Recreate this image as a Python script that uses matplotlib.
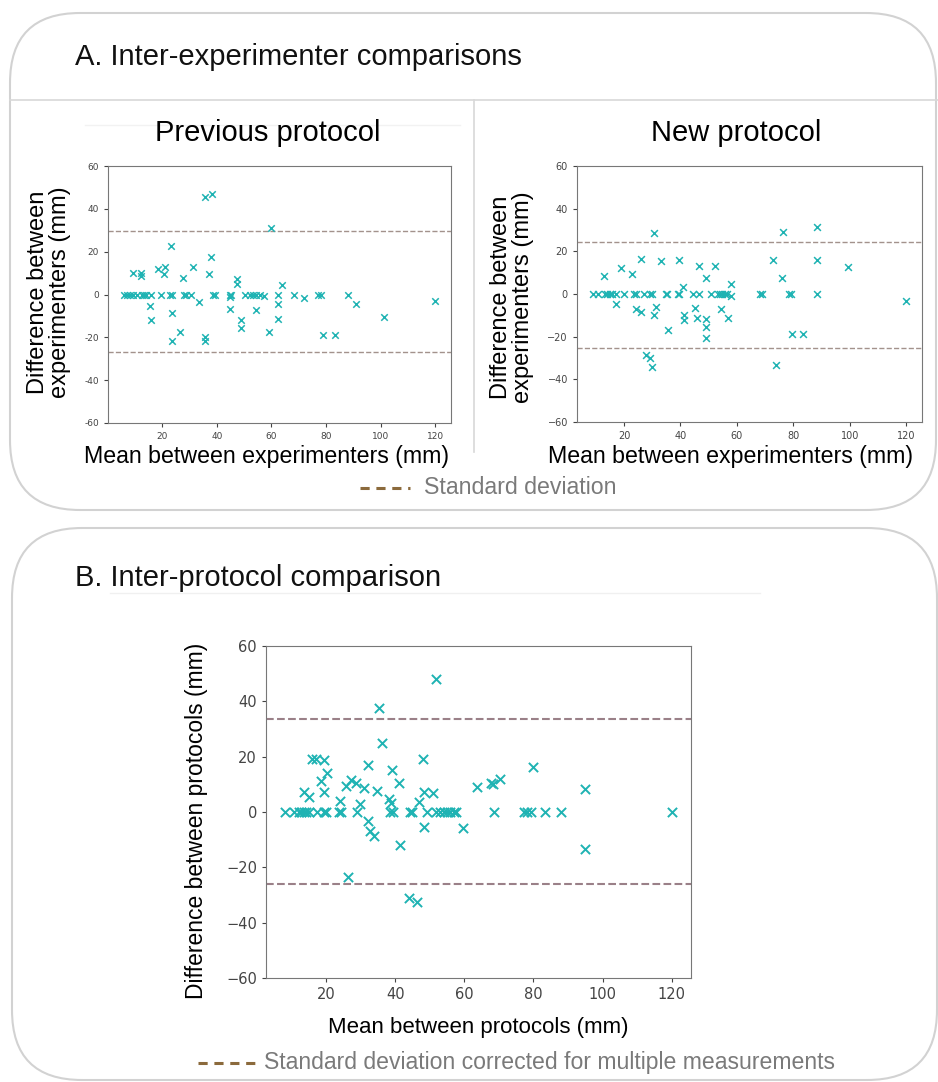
import matplotlib
matplotlib.use("Agg")
import matplotlib.pyplot as plt
from matplotlib.patches import FancyBboxPatch
from matplotlib.ticker import FuncFormatter

W, H = 938, 1082

# A. previous protocol (mean vs difference between experimenters, mm)
prev_mean = [5.9, 7.1, 8.3, 9.5, 10.7, 12.5, 13.3, 14.2, 15.8, 19.6, 22.8, 23.6, 27.9, 28.7,
             30.6, 38.7, 39.3, 44.8, 45.2, 50.5, 52.0, 53.3, 54.5, 55.9, 62.3, 68.4, 77.2, 78.0, 87.9,
             9.4, 12.4, 12.4, 15.4, 16.1, 18.4, 21.2, 20.8, 23.3, 23.6, 23.6, 26.4, 27.6, 31.2, 33.5,
             35.7, 38.1, 35.7, 35.7, 37.0, 38.0, 44.8, 45.0, 47.4, 47.3, 48.8, 48.8, 54.2, 57.2, 59.2,
             59.8, 62.3, 62.3, 63.8, 72.0, 79.0, 83.2, 90.9, 101.3, 120.0]
prev_diff = [0, 0, 0, 0, 0, 0, 0, 0, 0, 0, 0, 0, 0, 0,
             0, 0, 0, 0, 0, 0, 0, 0, 0, 0, 0, 0, 0, 0, 0,
             10.0, 10.0, 8.5, -5.4, -11.8, 12.1, 12.8, 9.4, 22.6, -8.5, -21.6, -17.5, 7.5, 12.7, -3.7,
             45.5, 47.1, -19.8, -21.9, 9.7, 17.4, -1.2, -6.9, 7.4, 5.1, -12.1, -15.5, -7.2, -0.9, -17.5,
             31.2, -4.4, -11.4, 4.6, -1.5, -18.8, -18.8, -4.3, -10.4, -3.2]
prev_sd = [29.5, -26.7]

# A. new protocol
new_mean = [8.9, 10.9, 13.1, 13.9, 14.9, 15.8, 17.3, 20.0, 23.6, 24.2, 27.2, 29.2, 30.0, 34.7, 35.4,
            39.0, 39.5, 44.4, 46.7, 50.9, 53.3, 54.0, 54.8, 55.8, 56.6, 68.3, 68.9, 78.6, 79.2, 88.3,
            12.8, 17.3, 18.8, 23.0, 24.4, 26.0, 26.0, 27.7, 29.2, 29.8, 30.5, 30.6, 31.3, 33.0, 35.7,
            39.4, 40.9, 41.1, 41.1, 45.3, 45.9, 46.7, 49.0, 49.1, 49.2, 49.1, 52.2, 54.4, 56.9, 57.8,
            57.8, 72.9, 73.9, 76.1, 76.4, 79.4, 83.5, 88.4, 88.5, 99.4, 120.0]
new_diff = [0, 0, 0, 0, 0, 0, 0, 0, 0, 0, 0, 0, 0, 0, 0,
            0, 0, 0, 0, 0, 0, 0, 0, 0, 0, 0, 0, 0, 0, 0,
            8.6, -4.8, 12.3, 9.5, -7.0, 16.3, -8.3, -28.8, -30.2, -34.2, -10.0, 28.8, -6.1, 15.3, -17.0,
            16.1, 3.1, -10.0, -12.3, -6.6, -11.1, 13.0, 7.3, -11.7, -15.6, -20.8, 13.0, -6.9, -11.4, 4.5,
            -0.9, 16.1, -33.4, 7.5, 29.1, -18.9, -18.9, 31.3, 15.9, 12.8, -3.3]
new_sd = [24.2, -25.3]

# B. inter-protocol
prot_mean = [8.2, 10.6, 12.1, 12.8, 13.5, 14.3, 15.0, 17.4, 19.3, 20.0, 23.7, 24.2, 28.8, 38.6, 39.4, 44.2,
             44.9, 49.1, 51.9, 52.9, 54.1, 55.0, 55.8, 57.0, 57.7, 68.6, 77.2, 78.2, 79.2, 83.3, 88.1, 120.0,
             13.5, 15.0, 15.9, 17.1, 19.3, 18.6, 19.3, 20.3, 23.9, 25.8, 27.2, 26.4, 28.7, 29.7, 30.9,
             32.2, 32.2, 32.8, 33.9, 34.8, 35.4, 36.1, 38.3, 38.8, 39.1, 41.1, 41.5, 44.1, 46.4, 46.9,
             48.1, 48.3, 48.3, 50.9, 51.9, 59.6, 63.7, 67.6, 68.3, 70.3, 80.0, 94.8, 94.8]
prot_diff = [0, 0, 0, 0, 0, 0, 0, 0, 0, 0, 0, 0, 0, 0, 0, 0,
             0, 0, 0, 0, 0, 0, 0, 0, 0, 0, 0, 0, 0, 0, 0, 0,
             7.1, 5.3, 19.0, 19.0, 18.8, 11.3, 7.1, 14.2, 4.0, 9.3, 11.4, -23.6, 10.5, 3.0, 8.6,
             17.1, -3.3, -6.9, -8.7, 7.7, 37.7, 25.1, 4.6, 3.1, 15.2, 10.6, -12.0, -31.1, -32.5, 3.6,
             19.0, 7.2, -5.5, 6.9, 48.1, -5.9, 8.9, 10.6, 10.1, 12.0, 16.3, 8.2, -13.3]
prot_sd = [33.6, -26.1]

yticks = [-60, -40, -20, 0, 20, 40, 60]
xticks = [20, 40, 60, 80, 100, 120]

LABEL_FONT = ['Liberation Sans', 'DejaVu Sans']
MARK = '#1fb3b3'
EDGE = '#d2d2d2'


def px_axes(fig, left, top, right, bottom):
    return fig.add_axes([left / W, 1 - bottom / H, (right - left) / W, (bottom - top) / H])


def bland_altman(ax, mean, diff, sd, ms, mew, sd_color, lw, tick_size, hyphen=False):
    ax.scatter(mean, diff, marker='x', s=ms, linewidths=mew, color=MARK, zorder=3)
    for v in sd:
        ax.axhline(v, color=sd_color, linestyle='--', linewidth=lw, zorder=2)
    ax.set_ylim(-60, 60)
    ax.set_yticks(yticks)
    ax.set_xticks(xticks)
    ax.tick_params(labelsize=tick_size, colors='#444444', length=3)
    if hyphen:
        ax.yaxis.set_major_formatter(FuncFormatter(lambda v, p: f"{v:.0f}"))
    for s in ax.spines.values():
        s.set_color('#777777')


fig = plt.figure(figsize=(W / 100, H / 100), dpi=100)

# background layer in pixel coordinates
bg = fig.add_axes([0, 0, 1, 1])
bg.set_xlim(0, W)
bg.set_ylim(H, 0)
bg.axis('off')

bg.add_patch(FancyBboxPatch((10, 13), 926, 497, boxstyle="round,pad=0,rounding_size=70",
                            facecolor='white', edgecolor=EDGE, linewidth=1.5))
bg.add_patch(FancyBboxPatch((12, 528), 925, 552, boxstyle="round,pad=0,rounding_size=70",
                            facecolor='white', edgecolor=EDGE, linewidth=1.5))
bg.plot([10, 938], [100, 100], color='#d8d8d8', linewidth=1.2)
bg.plot([474, 474], [100, 452], color='#d8d8d8', linewidth=1.2)
bg.plot([85, 460], [125, 125], color='#f2f2f2', linewidth=1)
bg.plot([110, 760], [593, 593], color='#f0f0f0', linewidth=1)

bg.text(75, 57, "A. Inter-experimenter comparisons", fontsize=21, family=LABEL_FONT,
        va='center', ha='left', color='#111111')
bg.text(75, 578, "B. Inter-protocol comparison", fontsize=21, family=LABEL_FONT,
        va='center', ha='left', color='#111111')

bg.text(268, 133, "Previous protocol", fontsize=21, family=LABEL_FONT, ha='center', va='center')
bg.text(736, 133, "New protocol", fontsize=21, family=LABEL_FONT, ha='center', va='center')

bg.text(49, 292, "Difference between\nexperimenters (mm)", fontsize=17, family=LABEL_FONT,
        rotation=90, ha='center', va='center', linespacing=1.0)
bg.text(512, 297, "Difference between\nexperimenters (mm)", fontsize=17, family=LABEL_FONT,
        rotation=90, ha='center', va='center', linespacing=1.0)
bg.text(267, 457, "Mean between experimenters (mm)", fontsize=16.7, family=LABEL_FONT,
        ha='center', va='center')
bg.text(730, 457, "Mean between experimenters (mm)", fontsize=16.7, family=LABEL_FONT,
        ha='center', va='center')

bg.text(197, 821, "Difference between protocols (mm)", fontsize=16.5, family=LABEL_FONT,
        rotation=90, ha='center', va='center')
bg.text(478, 1027, "Mean between protocols (mm)", fontsize=16, family=LABEL_FONT,
        ha='center', va='center')

# legends
LEG = '#8b6a3c'
bg.plot([360, 410], [488, 488], color=LEG, linestyle=(0, (3, 2.2)), linewidth=2.2)
bg.text(424, 488, "Standard deviation", fontsize=16.7, family=LABEL_FONT, color='#7a7a7a',
        ha='left', va='center')
bg.plot([198, 258], [1063, 1063], color=LEG, linestyle=(0, (3, 2.2)), linewidth=2.2)
bg.text(264, 1063, "Standard deviation corrected for multiple measurements", fontsize=16.6,
        family=LABEL_FONT, color='#7a7a7a', ha='left', va='center')

ax1 = px_axes(fig, 108, 166, 451, 423)
bland_altman(ax1, prev_mean, prev_diff, prev_sd, 22, 1.1, '#a3928c', 1.0, 6.5, hyphen=True)

ax2 = px_axes(fig, 577, 166, 922, 422)
bland_altman(ax2, new_mean, new_diff, new_sd, 24, 1.1, '#a3928c', 1.0, 7)

ax3 = px_axes(fig, 266, 646, 691, 978)
bland_altman(ax3, prot_mean, prot_diff, prot_sd, 44, 1.4, '#9a8088', 1.5, 10.5)

fig.savefig("out.png", dpi=100)
